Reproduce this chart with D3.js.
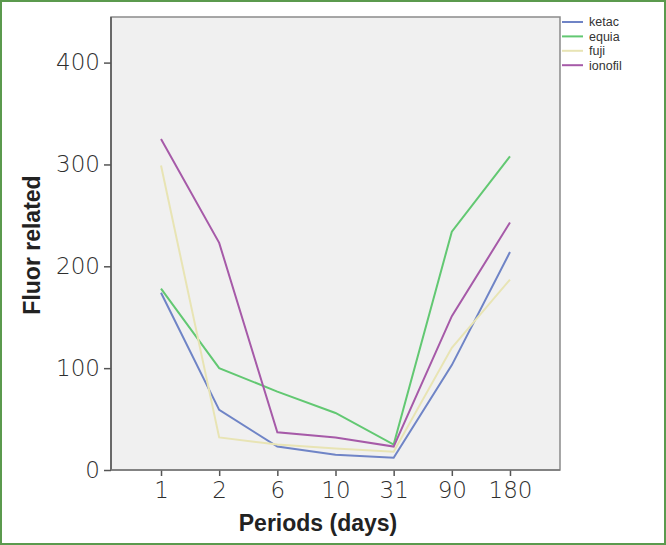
<!DOCTYPE html>
<html>
<head>
<meta charset="utf-8">
<script src="https://cdn.jsdelivr.net/npm/d3@7"></script>
<style>
  body { margin: 0; background: #fff; }
  svg { display: block; font-family: "Liberation Sans", Arial, sans-serif; }
</style>
</head>
<body>
<div id="chart"></div>
<script>
// data
const periods = ["1", "2", "6", "10", "31", "90", "180"];
const ketac   = [174, 59, 23, 15, 12, 103, 214];
const equia   = [178, 100, 77, 56, 25, 234, 308];
const fuji    = [299, 32, 25, 21, 18, 120, 187];
const ionofil = [325, 223, 37, 32, 23, 151, 243];
const seriesNames = ["ketac", "equia", "fuji", "ionofil"];
const seriesColors = ["#6f84c6", "#62c872", "#e8e4b4", "#a65aa8"];
const yTicks = [0, 100, 200, 300, 400];

const W = 666, H = 545;
const plotL = 111, plotR = 560, plotT = 17, plotB = 470;

const svg = d3.select("#chart").append("svg")
    .attr("width", W).attr("height", H);

// outer green frame
svg.append("rect")
    .attr("x", 1).attr("y", 1).attr("width", W - 2).attr("height", H - 2)
    .attr("fill", "#fff").attr("stroke", "#5b9a4e").attr("stroke-width", 2);

const x = d3.scalePoint().domain(periods).range([plotL, plotR]).padding(0.86);
const y = d3.scaleLinear().domain([0, 400]).range([plotB, 62.6]);

// plot background
svg.append("rect")
    .attr("x", plotL).attr("y", plotT)
    .attr("width", plotR - plotL).attr("height", plotB - plotT)
    .attr("fill", "#f0f0f0").attr("stroke", "#8a8a8a").attr("stroke-width", 1.5);

// axes
const yAxis = svg.append("g")
    .attr("transform", `translate(${plotL},0)`)
    .call(d3.axisLeft(y).tickValues(yTicks).tickSize(7).tickPadding(4));
const xAxis = svg.append("g")
    .attr("transform", `translate(0,${plotB})`)
    .call(d3.axisBottom(x).tickSize(6).tickPadding(6));
[yAxis, xAxis].forEach(g => {
  g.select(".domain").remove();
  g.selectAll("line").attr("stroke", "#555").attr("stroke-width", 1.5);
  g.selectAll("text").attr("fill", "#2e2e2e").style("font-size", "23px")
    .style("font-family", "'DejaVu Sans', sans-serif").style("font-weight", "300");
});
svg.append("line")
    .attr("x1", plotL).attr("x2", plotL).attr("y1", plotT).attr("y2", plotB)
    .attr("stroke", "#555").attr("stroke-width", 1.5);
svg.append("line")
    .attr("x1", plotL).attr("x2", plotR).attr("y1", plotB).attr("y2", plotB)
    .attr("stroke", "#777").attr("stroke-width", 1.5);

// lines
const allSeries = [ketac, equia, fuji, ionofil];
const line = d3.line().x((d, i) => x(periods[i])).y(d => y(d));
svg.append("g").selectAll("path")
    .data(allSeries)
    .join("path")
    .attr("d", line)
    .attr("fill", "none")
    .attr("stroke", (d, i) => seriesColors[i])
    .attr("stroke-width", 2);

// legend
const legend = svg.append("g");
seriesNames.forEach((name, i) => {
  const ly = 22 + i * 14.4;
  legend.append("line")
      .attr("x1", 562).attr("x2", 583).attr("y1", ly).attr("y2", ly)
      .attr("stroke", seriesColors[i]).attr("stroke-width", 2);
  legend.append("text")
      .attr("x", 589).attr("y", ly + 4.3)
      .attr("fill", "#333").style("font-size", "12.5px")
      .text(name);
});

// titles
svg.append("text")
    .attr("transform", `translate(40,245) rotate(-90)`)
    .attr("text-anchor", "middle")
    .attr("fill", "#222").style("font-size", "23px").style("font-weight", "bold")
    .text("Fluor related");
svg.append("text")
    .attr("x", 318).attr("y", 531)
    .attr("text-anchor", "middle")
    .attr("fill", "#222").style("font-size", "23px").style("font-weight", "bold")
    .text("Periods (days)");
</script>
</body>
</html>
